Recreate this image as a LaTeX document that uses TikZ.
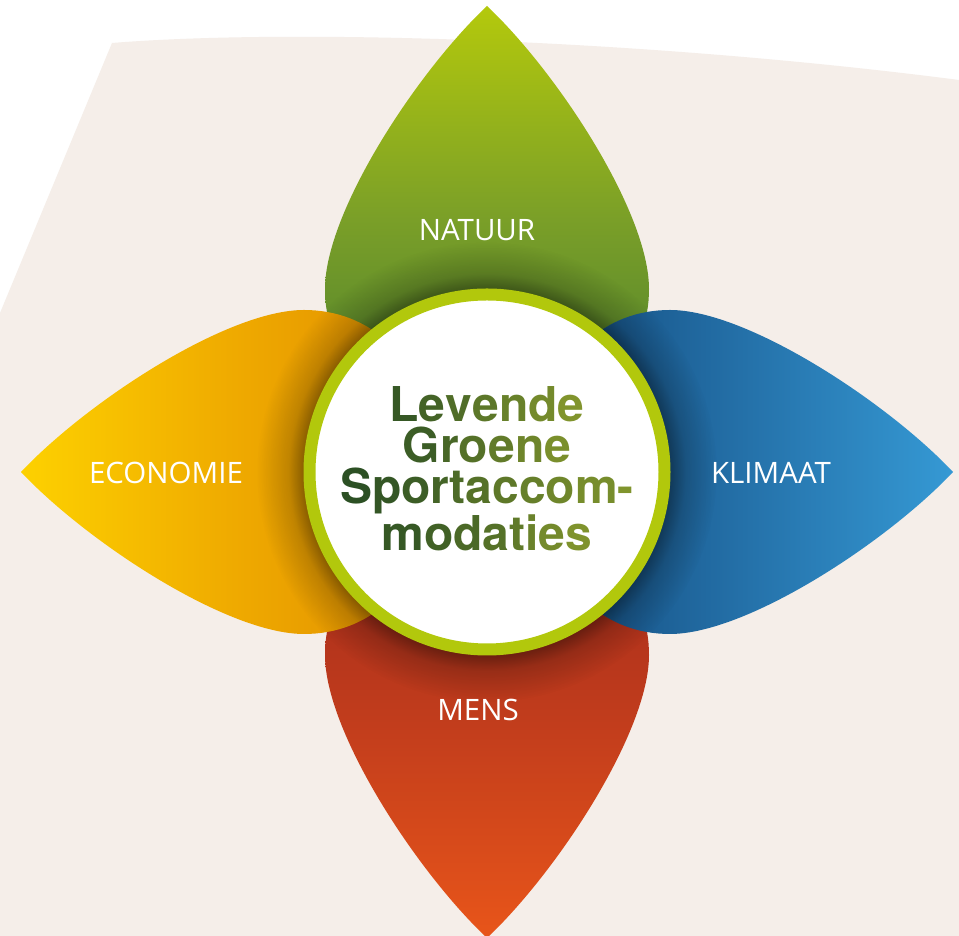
\documentclass[tikz,border=0pt]{standalone}
\usepackage{fontspec}
\newfontfamily\kernfont{TeX Gyre Heros}
\newfontfamily\bladfont{Open Sans}
\usetikzlibrary{fadings}

\definecolor{achtergrond}{HTML}{F5EEE9}
\definecolor{ringgroen}{HTML}{B2C80C}
\definecolor{natuurtip}{HTML}{B4C90C}
\definecolor{natuurmid}{HTML}{7A9F28}
\definecolor{natuurvoet}{HTML}{4A7D2E}
\definecolor{economietip}{HTML}{FDD100}
\definecolor{economiemid}{HTML}{EFAA00}
\definecolor{economievoet}{HTML}{DF8A00}
\definecolor{klimaattip}{HTML}{3599D4}
\definecolor{klimaatmid}{HTML}{2470A8}
\definecolor{klimaatvoet}{HTML}{12487A}
\definecolor{menstip}{HTML}{E8551A}
\definecolor{mensmid}{HTML}{C23D1C}
\definecolor{mensvoet}{HTML}{A1281D}
\definecolor{kerndonker}{HTML}{2C5024}
\definecolor{kernlicht}{HTML}{8A9C2E}

% schaduw rond de ring
\pgfdeclareradialshading{ringschaduw}{\pgfpointorigin}{color(0bp)=(white); color(19.9bp)=(white); color(21.5bp)=(black!55!white); color(25bp)=(black)}
\pgfdeclarefading{schaduw}{\pgfuseshading{ringschaduw}}

\newcommand{\bladvorm}{(40,0) .. controls (60,120) and (120,162) .. (183,162) .. controls (260,162) and (400,70) .. (466,0) .. controls (400,-70) and (260,-162) .. (183,-162) .. controls (120,-162) and (60,-120) .. (40,0) -- cycle}

\newcommand{\blad}[2]{
\begin{scope}[shift={(487,464)},rotate=#1]
    \shade[#2] \bladvorm;
    \clip \bladvorm;
    \fill[black,fill opacity=0.4,path fading=schaduw] (0,0) circle (230);
\end{scope}
}

% letters van donker naar licht
\newcount\letternr
\newcommand{\kleurregel}[3]{\letternr=0 \def\kleurstart{#1}\def\kleurstap{#2}\kleurletters#3\relax}
\def\kleurletters#1{\ifx#1\relax\else
    \pgfmathtruncatemacro\kleurpct{100*(\kleurstart+\letternr*\kleurstap)}%
    {\color{kernlicht!\kleurpct!kerndonker}#1}\advance\letternr by 1
    \expandafter\kleurletters\fi}

\tikzset{
    bladtekst/.style={text=white,inner sep=0pt,font=\bladfont\fontsize{29.5}{30}\selectfont},
    kerntekst/.style={inner sep=0pt,align=center,anchor=north,font=\kernfont\bfseries\fontsize{48}{41}\selectfont}
}

\begin{document}
\begin{tikzpicture}[x=1pt,y=1pt]

\useasboundingbox (0,0) rectangle (959,936);
\fill[white] (0,0) rectangle (959,936);

\fill[achtergrond] (112,893) .. controls (300,908) and (650,896) .. (959,856) -- (959,0) -- (0,0) -- (0,623) -- cycle;

\blad{90}{top color=natuurtip,bottom color=natuurvoet,middle color=natuurmid}
\blad{270}{top color=mensvoet,bottom color=menstip,middle color=mensmid}
\blad{180}{left color=economietip,right color=economievoet,middle color=economiemid}
\blad{0}{left color=klimaatvoet,right color=klimaattip,middle color=klimaatmid}

\draw[ringgroen,line width=12pt,fill=white] (487,464) circle (177.5);

\node[bladtekst] (natuur) at (477,706) {NATUUR};
\node[bladtekst] (economie) at (166,463) {ECONOMIE};
\node[bladtekst] (klimaat) at (771,463) {KLIMAAT};
\node[bladtekst] (mens) at (478,226) {MENS};

\node[kerntekst] (kern) at (487,550) {\kleurregel{0.12}{0.13}{Levende}\\
    \kleurregel{0.18}{0.13}{Groene}\\
    \kleurregel{0.0}{0.09}{Sportaccom-}\\
    \kleurregel{0.12}{0.11}{modaties}};

\end{tikzpicture}
\end{document}
